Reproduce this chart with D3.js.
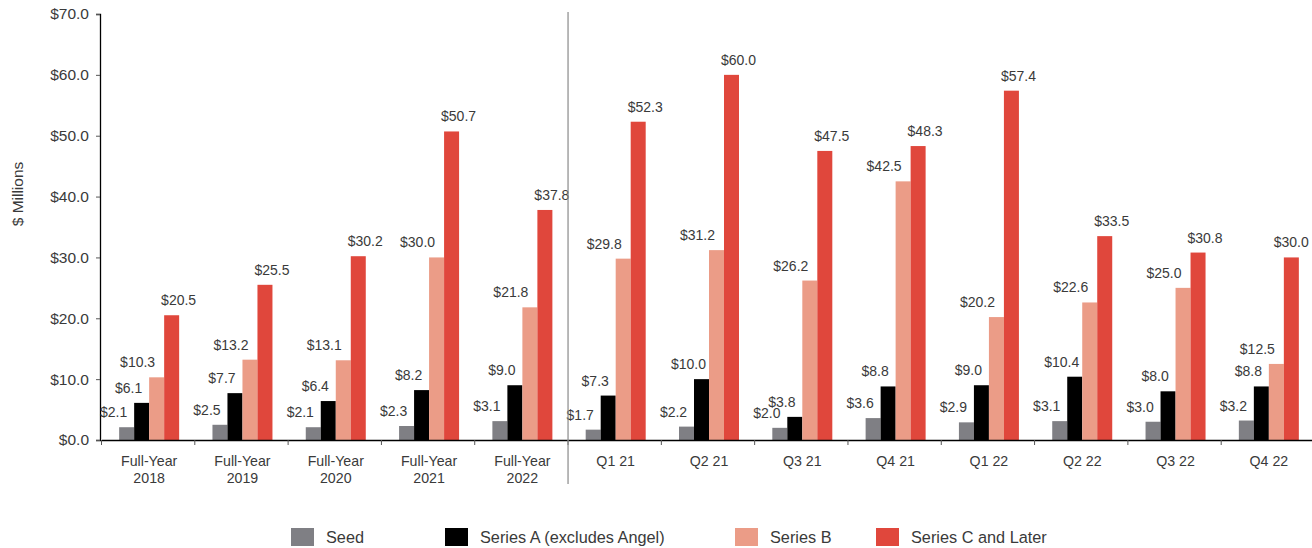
<!DOCTYPE html>
<html>
<head>
<meta charset="utf-8">
<script src="https://cdn.jsdelivr.net/npm/d3@7"></script>
<style>
  html, body { margin: 0; padding: 0; background: #fff; }
  svg { display: block; font-family: "Liberation Sans", Arial, Helvetica, sans-serif; }
</style>
</head>
<body>
<svg id="chart" width="1312" height="548"></svg>
<script>
// Funding round medians ($ millions) by period
const categories = [
  ["Full-Year", "2018"], ["Full-Year", "2019"], ["Full-Year", "2020"],
  ["Full-Year", "2021"], ["Full-Year", "2022"],
  ["Q1 21"], ["Q2 21"], ["Q3 21"], ["Q4 21"],
  ["Q1 22"], ["Q2 22"], ["Q3 22"], ["Q4 22"]
];
const seriesNames = ["Seed", "Series A (excludes Angel)", "Series B", "Series C and Later"];
const seed    = [2.1, 2.5, 2.1, 2.3, 3.1, 1.7, 2.2, 2.0, 3.6, 2.9, 3.1, 3.0, 3.2];
const seriesA = [6.1, 7.7, 6.4, 8.2, 9.0, 7.3, 10.0, 3.8, 8.8, 9.0, 10.4, 8.0, 8.8];
const seriesB = [10.3, 13.2, 13.1, 30.0, 21.8, 29.8, 31.2, 26.2, 42.5, 20.2, 22.6, 25.0, 12.5];
const seriesC = [20.5, 25.5, 30.2, 50.7, 37.8, 52.3, 60.0, 47.5, 48.3, 57.4, 33.5, 30.8, 30.0];
const yTicks  = [0, 10, 20, 30, 40, 50, 60, 70];
const annualCount = 5; // full-year groups before the quarterly ones

const series = [seed, seriesA, seriesB, seriesC];
const colors = ["#7f7f84", "#000000", "#eb9c87", "#e0473c"];
// horizontal nudges of value labels per series, so neighbours don't collide
const labelShift = [-13, -13, -19, 7];

const W = 1312;
const svg = d3.select("#chart");
const textColor = "#3a3a3a";

const x = d3.scaleBand()
  .domain(d3.range(categories.length))
  .range([101.5, 1314.5])
  .paddingInner(0).paddingOuter(0);

const y = d3.scaleLinear().domain([0, 70]).range([440, 14]);

const barW = 15;
const inner = d3.scaleBand()
  .domain(d3.range(series.length))
  .range([0, barW * series.length]);
const groupOffset = (x.bandwidth() - barW * series.length) / 2 + 1;

// y axis
const yAxis = svg.append("g")
  .attr("transform", "translate(100,0)")
  .call(d3.axisLeft(y).tickValues(yTicks).tickSize(4).tickPadding(7)
    .tickFormat(d => "$" + d3.format(".1f")(d)));
yAxis.select(".domain").attr("stroke", "#000").attr("stroke-width", 1.3);
yAxis.selectAll(".tick line").attr("stroke", "#555");
yAxis.selectAll(".tick text")
  .attr("fill", textColor).attr("font-size", 15.5).style("font-family", "inherit");

// y axis title
svg.append("text")
  .attr("transform", "translate(23,194) rotate(-90)")
  .attr("text-anchor", "middle")
  .attr("fill", textColor)
  .attr("font-size", 15.5)
  .text("$ Millions");

// bars
const groups = svg.append("g").selectAll("g")
  .data(categories.map((c, i) => i))
  .join("g")
  .attr("transform", i => `translate(${x(i) + groupOffset},0)`);

groups.selectAll("rect")
  .data(i => series.map((s, k) => ({ k, v: s[i] })))
  .join("rect")
  .attr("x", d => inner(d.k))
  .attr("width", inner.bandwidth())
  .attr("y", d => y(d.v))
  .attr("height", d => y(0) - y(d.v))
  .attr("fill", d => colors[d.k]);

// value labels
groups.selectAll("text.val")
  .data(i => series.map((s, k) => ({ k, v: s[i], i })))
  .join("text")
  .attr("class", "val")
  .attr("x", d => inner(d.k) + inner.bandwidth() / 2 + labelShift[d.k])
  .attr("y", d => y(d.v) - 10)
  .attr("text-anchor", "middle")
  .attr("fill", textColor)
  .attr("font-size", 14)
  .text(d => "$" + d3.format(".1f")(d.v))
  .each(function (d) {
    // keep labels inside the right edge of the canvas
    const bb = this.getBBox();
    const absRight = x(d.i) + groupOffset + bb.x + bb.width;
    if (absRight > W - 3) {
      d3.select(this).attr("x", +d3.select(this).attr("x") - (absRight - (W - 3)));
    }
  });

// x axis
const xAxis = svg.append("g")
  .attr("transform", "translate(0,440)")
  .call(d3.axisBottom(x).tickSize(0).tickFormat(""));
xAxis.select(".domain").attr("stroke", "#000").attr("stroke-width", 1.3);
xAxis.selectAll(".tick").remove();

// boundary ticks between groups
svg.append("g").selectAll("line")
  .data(d3.range(categories.length))
  .join("line")
  .attr("x1", i => x(i)).attr("x2", i => x(i))
  .attr("y1", 440).attr("y2", 445)
  .attr("stroke", "#555").attr("stroke-width", 1);

// category labels
const catLabels = svg.append("g").selectAll("text")
  .data(categories)
  .join("text")
  .attr("x", (c, i) => x(i) + x.bandwidth() / 2 + 1)
  .attr("y", 466)
  .attr("text-anchor", "middle")
  .attr("fill", textColor)
  .attr("font-size", 14.2);
catLabels.selectAll("tspan")
  .data(c => c)
  .join("tspan")
  .attr("x", function () { return d3.select(this.parentNode).attr("x"); })
  .attr("dy", (d, j) => j === 0 ? 0 : 17)
  .text(d => d);

// divider between annual and quarterly groups
svg.append("line")
  .attr("x1", x(annualCount)).attr("x2", x(annualCount))
  .attr("y1", 12).attr("y2", 484)
  .attr("stroke", "#8a8a8a").attr("stroke-width", 1.2);

// legend
const legendX = [291, 445, 735, 876];
const legend = svg.append("g").selectAll("g")
  .data(seriesNames)
  .join("g")
  .attr("transform", (d, i) => `translate(${legendX[i]},528)`);
legend.append("rect")
  .attr("width", 23).attr("height", 18)
  .attr("fill", (d, i) => colors[i]);
legend.append("text")
  .attr("x", 35).attr("y", 14.5)
  .attr("fill", textColor)
  .attr("font-size", 16.3)
  .text(d => d);
</script>
</body>
</html>
